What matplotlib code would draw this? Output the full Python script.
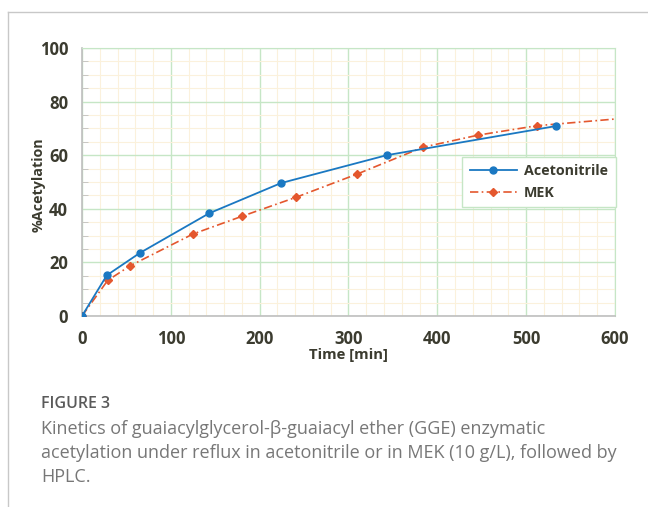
import matplotlib.pyplot as plt
from matplotlib.lines import Line2D
from matplotlib.ticker import MultipleLocator

# data
acn_time = [0, 28, 65, 143, 224, 343, 534]
acn_acet = [0, 15.2, 23.5, 38.3, 49.6, 60.0, 70.9]

mek_time = [0, 29, 54, 125, 180, 241, 310, 384, 446, 512, 600]
mek_acet = [0, 13.3, 18.7, 30.6, 37.2, 44.3, 53.0, 63.0, 67.5, 71.0, 73.5]
mek_markers = list(range(10))  # last point is only the curve end

txt_col = '#3b3b2f'
blue = '#1a78c2'
orange = '#e4572e'

plt.rcParams['font.family'] = ['Open Sans', 'DejaVu Sans']

fig = plt.figure(figsize=(6.48, 5.07), dpi=100)
ax = fig.add_axes([0.1265, 0.3767, 0.8225, 0.5286])

ax.plot(acn_time, acn_acet, color=blue, lw=1.3, marker='o', ms=5,
        label='Acetonitrile', zorder=4)
ax.plot(mek_time, mek_acet, color=orange, lw=1.2, ls=(0, (5, 2, 1, 2)),
        marker='D', ms=4, markevery=mek_markers, label='MEK', zorder=3)

ax.set_xlim(0, 600)
ax.set_ylim(0, 100)
ax.xaxis.set_major_locator(MultipleLocator(100))
ax.xaxis.set_minor_locator(MultipleLocator(20))
ax.yaxis.set_major_locator(MultipleLocator(20))
ax.yaxis.set_minor_locator(MultipleLocator(5))

ax.grid(which='minor', color='#fbf1dc', lw=0.8, zorder=0)
ax.grid(which='major', color='#c6e6c6', lw=1.0, zorder=1)
ax.set_axisbelow(True)

for s in ['top', 'right']:
    ax.spines[s].set_color('#c6e6c6')
for s in ['left', 'bottom']:
    ax.spines[s].set_color('#bfbfbf')
    ax.spines[s].set_linewidth(1.2)

ax.tick_params(axis='both', which='major', length=0, pad=10,
               labelsize=12, labelcolor=txt_col)
ax.tick_params(axis='y', which='minor', direction='in', length=4,
               color='#bfbfbf')
ax.tick_params(axis='x', which='minor', length=0)
for lab in ax.get_xticklabels() + ax.get_yticklabels():
    lab.set_fontweight('bold')

ax.set_xlabel('Time [min]', fontsize=10.7, fontweight='bold', color=txt_col,
              labelpad=0)
ax.set_ylabel('%Acetylation', fontsize=10.3, fontweight='bold', color=txt_col)
ax.yaxis.set_label_coords(-0.069, 0.49)

leg = ax.legend(loc='upper right', bbox_to_anchor=(1.002, 0.595),
                borderaxespad=0, fontsize=10.3, frameon=True, fancybox=False,
                edgecolor='#c6e6c6', framealpha=1, handlelength=3.3,
                handletextpad=0.5, borderpad=0.55, labelspacing=0.5)
for t in leg.get_texts():
    t.set_fontweight('bold')
    t.set_color(txt_col)

# card border lines (top and left)
fig.add_artist(Line2D([0.012, 1.0], [0.976, 0.976], color='#c8c8c8', lw=1))
fig.add_artist(Line2D([0.012, 0.012], [0.0, 0.976], color='#c8c8c8', lw=1))

fig.text(0.063, 0.195, 'FIGURE 3', fontsize=11.5, color='#5a5a5a',
         fontweight='semibold')
fig.text(0.063, 0.171,
         'Kinetics of guaiacylglycerol-β-guaiacyl ether (GGE) enzymatic\n'
         'acetylation under reflux in acetonitrile or in MEK (10 g/L), followed by\n'
         'HPLC.', fontsize=13, color='#777777', linespacing=1.42, va='top')

fig.savefig('out.png', dpi=100)
